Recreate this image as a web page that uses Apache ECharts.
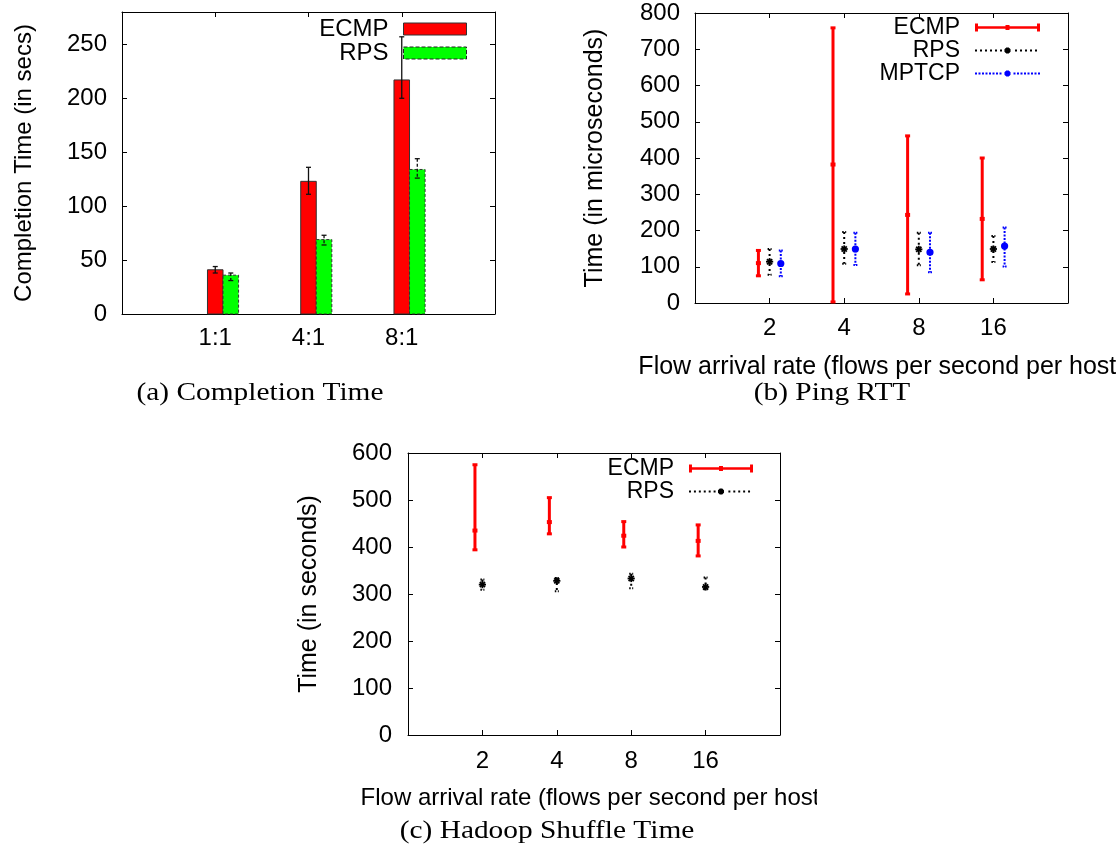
<!DOCTYPE html>
<html>
<head>
<meta charset="utf-8">
<script src="https://cdn.jsdelivr.net/npm/echarts@6/dist/echarts.min.js"></script>
<style>
html, body { margin: 0; padding: 0; background: #fff; }
#chart { width: 1116px; height: 850px; }
</style>
</head>
<body>
<div id="chart"></div>
<script>
// (a) completion time, clustered bars with error bars
var ratioLabels = ['1:1', '4:1', '8:1'];
var ecmpTime = [41, 123, 217];
var ecmpTimeLow = [38, 111, 200];
var ecmpTimeHigh = [44, 136, 257];
var rpsTime = [36, 69, 134];
var rpsTimeLow = [31, 64, 126];
var rpsTimeHigh = [38, 73, 144];

// (b) ping rtt (microseconds)
var rateLabels = ['2', '4', '8', '16'];
var ecmpRtt = [110, 382, 243, 232];
var ecmpRttLow = [75, 3, 25, 64];
var ecmpRttHigh = [145, 759, 461, 400];
var rpsRtt = [114, 149, 148, 149];
var rpsRttLow = [78, 108, 104, 113];
var rpsRttHigh = [149, 196, 194, 185];
var mptcpRtt = [109, 149, 140, 157];
var mptcpRttLow = [74, 105, 85, 101];
var mptcpRttHigh = [145, 194, 194, 208];

// (c) hadoop shuffle time (seconds)
var ecmpShuffle = [435, 453, 424, 413];
var ecmpShuffleLow = [394, 428, 400, 381];
var ecmpShuffleHigh = [575, 505, 454, 447];
var rpsShuffle = [320, 328, 333, 315];
var rpsShuffleLow = [309, 306, 312, 310];
var rpsShuffleHigh = [331, 334, 343, 335];

var FONT = '"Liberation Sans", Arial, Helvetica, sans-serif';
var RED = '#ff0000', GREEN = '#00ff00', BLUE = '#0000ff';
var BAR_W = 1 / 6;

function rows(vals, lows, highs) {
    return vals.map(function (v, i) { return [i + 1, v, lows[i], highs[i]]; });
}

function xAxes(grid, max, labels, margin, name, nameGap, nameSize) {
    var base = {
        type: 'value', gridIndex: grid, min: 0, max: max, interval: 1,
        axisLine: {show: true, onZero: false, lineStyle: {color: '#000', width: 1}},
        axisTick: {show: true, inside: true, length: 5, lineStyle: {color: '#000'}},
        splitLine: {show: false}
    };
    var bottom = Object.assign({}, base, {
        position: 'bottom',
        axisLabel: {
            show: true, margin: margin, color: '#000', fontSize: 24, fontFamily: FONT,
            showMinLabel: true, showMaxLabel: true,
            formatter: function (v) { return labels[v - 1] || ''; }
        }
    });
    if (name) {
        bottom.name = name;
        bottom.nameLocation = 'middle';
        bottom.nameGap = nameGap;
        bottom.nameMoveOverlap = false;
        bottom.nameTextStyle = {color: '#000', fontSize: nameSize, fontFamily: FONT};
    }
    var top = Object.assign({}, base, {position: 'top', axisLabel: {show: false}});
    return [bottom, top];
}

function yAxes(grid, max, step, margin, name, nameGap, nameSize) {
    var base = {
        type: 'value', gridIndex: grid, min: 0, max: max, interval: step,
        axisLine: {show: true, onZero: false, lineStyle: {color: '#000', width: 1}},
        axisTick: {show: true, inside: true, length: 5, lineStyle: {color: '#000'}},
        splitLine: {show: false}
    };
    var left = Object.assign({}, base, {
        position: 'left',
        axisLabel: {
            show: true, margin: margin, color: '#000', fontSize: 24, fontFamily: FONT,
            formatter: function (v) { return v % step === 0 ? String(v) : ''; }
        },
        name: name, nameLocation: 'middle', nameGap: nameGap, nameMoveOverlap: false,
        nameTextStyle: {color: '#000', fontSize: nameSize, fontFamily: FONT}
    });
    var right = Object.assign({}, base, {position: 'right', axisLabel: {show: false}});
    return [left, right];
}

// bar + error bar for panel (a)
function barRender(offset, fill, dashed) {
    return function (params, api) {
        var x = api.value(0) + offset;
        var base = api.coord([x - BAR_W / 2, 0]);
        var tip = api.coord([x + BAR_W / 2, api.value(1)]);
        var lo = api.coord([x, api.value(2)]);
        var hi = api.coord([x, api.value(3)]);
        var dash = dashed ? [3, 2] : null;
        return {
            type: 'group',
            children: [
                {type: 'rect', shape: {x: base[0], y: tip[1], width: tip[0] - base[0], height: base[1] - tip[1]},
                 style: {fill: fill, stroke: '#333', lineWidth: 1, lineDash: dash}},
                {type: 'line', shape: {x1: hi[0], y1: hi[1], x2: lo[0], y2: lo[1]},
                 style: {stroke: '#111', lineWidth: 1.3, lineDash: dash}},
                {type: 'line', shape: {x1: hi[0] - 2.5, y1: hi[1], x2: hi[0] + 2.5, y2: hi[1]},
                 style: {stroke: '#111', lineWidth: 1.3}},
                {type: 'line', shape: {x1: lo[0] - 2.5, y1: lo[1], x2: lo[0] + 2.5, y2: lo[1]},
                 style: {stroke: '#111', lineWidth: 1.3}}
            ]
        };
    };
}

var LOOKS = {
    ecmp: {color: RED, width: 3, dash: null, cap: 2.5, capWidth: 3, capDash: null},
    rps: {color: '#000', width: 2, dash: [2, 3], cap: 2, capWidth: 2, capDash: [1.5, 1.5]},
    mptcp: {color: BLUE, width: 2, dash: [2, 1.5], cap: 2, capWidth: 2, capDash: [1.5, 1]}
};

function marker(kind, c) {
    if (kind === 'ecmp') {
        return {type: 'rect', shape: {x: c[0] - 2.5, y: c[1] - 2, width: 5, height: 4}, style: {fill: RED}};
    }
    if (kind === 'mptcp') {
        return {type: 'circle', shape: {cx: c[0], cy: c[1], r: 3.6}, style: {fill: BLUE}};
    }
    var r = 3.6, d = r * 0.72;
    return {
        type: 'group',
        children: [
            {type: 'line', shape: {x1: c[0], y1: c[1] - r, x2: c[0], y2: c[1] + r}, style: {stroke: '#000', lineWidth: 1.8}},
            {type: 'line', shape: {x1: c[0] - r, y1: c[1], x2: c[0] + r, y2: c[1]}, style: {stroke: '#000', lineWidth: 1.8}},
            {type: 'line', shape: {x1: c[0] - d, y1: c[1] - d, x2: c[0] + d, y2: c[1] + d}, style: {stroke: '#000', lineWidth: 1.8}},
            {type: 'line', shape: {x1: c[0] - d, y1: c[1] + d, x2: c[0] + d, y2: c[1] - d}, style: {stroke: '#000', lineWidth: 1.8}}
        ]
    };
}

// vertical error bar with a centre point for panels (b) and (c)
function errRender(offset, kind) {
    var look = LOOKS[kind];
    return function (params, api) {
        var x = api.value(0) + offset;
        var c = api.coord([x, api.value(1)]);
        var lo = api.coord([x, api.value(2)]);
        var hi = api.coord([x, api.value(3)]);
        return {
            type: 'group',
            children: [
                {type: 'line', shape: {x1: hi[0], y1: hi[1], x2: lo[0], y2: lo[1]},
                 style: {stroke: look.color, lineWidth: look.width, lineDash: look.dash}},
                {type: 'line', shape: {x1: hi[0] - look.cap, y1: hi[1], x2: hi[0] + look.cap, y2: hi[1]},
                 style: {stroke: look.color, lineWidth: look.capWidth, lineDash: look.capDash}},
                {type: 'line', shape: {x1: lo[0] - look.cap, y1: lo[1], x2: lo[0] + look.cap, y2: lo[1]},
                 style: {stroke: look.color, lineWidth: look.capWidth, lineDash: look.capDash}},
                marker(kind, c)
            ]
        };
    };
}

function custom(name, xi, data, render) {
    return {
        type: 'custom', name: name, xAxisIndex: xi, yAxisIndex: xi,
        data: data, renderItem: render, silent: true, animation: false
    };
}

// legend samples in the gnuplot manner: line + points
var ECMP_ICON = 'path://M0,0H3V8H0Z M0,2.8H65V5.2H0Z M30.5,1.5H34.5V6.5H30.5Z M62,0H65V8H62Z';

function dotIcon(step, dash, markR) {
    var w = 65, h = 8, mid = w / 2, p = 'M0,0M' + w + ',' + h;
    for (var x = 0; x + dash <= w; x += step) {
        if (Math.abs(x + dash / 2 - mid) < markR + 1.5) continue;
        p += 'M' + x + ',3H' + (x + dash) + 'V5H' + x + 'Z';
    }
    var pts = [];
    for (var k = 0; k < 8; k++) {
        var a = Math.PI / 8 + k * Math.PI / 4;
        pts.push((mid + markR * Math.cos(a)).toFixed(2) + ',' + (h / 2 + markR * Math.sin(a)).toFixed(2));
    }
    p += 'M' + pts.join('L') + 'Z';
    return 'path://' + p;
}

function legendBox(items, iw, ih, right, top, size, lh) {
    return {
        orient: 'vertical', align: 'right', right: right, top: top,
        padding: 0, itemGap: 0, itemWidth: iw, itemHeight: ih,
        selectedMode: false,
        formatter: function (n) { return n.slice(2); },
        textStyle: {color: '#000', fontSize: size, fontFamily: FONT, lineHeight: lh, padding: [0, 10, 0, 0]},
        data: items
    };
}

var chart = echarts.init(document.getElementById('chart'), null, {renderer: 'canvas'});

var option = {
    backgroundColor: '#fff',
    animation: false,
    grid: [
        {left: 122, top: 12, width: 373, height: 302, containLabel: false, outerBoundsMode: 'none'},
        {left: 695, top: 13, width: 373, height: 290, containLabel: false, outerBoundsMode: 'none'},
        {left: 408, top: 453, width: 372, height: 282, containLabel: false, outerBoundsMode: 'none'}
    ],
    xAxis: [].concat(
        xAxes(0, 4, ratioLabels, 12),
        xAxes(1, 5, rateLabels, 13, 'Flow arrival rate (flows per second per host)', 52, 25),
        xAxes(2, 5, rateLabels, 14, 'Flow arrival rate (flows per second per host)', 51, 24)
    ),
    yAxis: [].concat(
        yAxes(0, 280, 50, 15, 'Completion Time (in secs)', 86, 24),
        yAxes(1, 800, 100, 15, 'Time (in microseconds)', 87, 25),
        yAxes(2, 600, 100, 16, 'Time (in seconds)', 86, 25)
    ),
    legend: [
        legendBox([
            {name: 'a-ECMP', icon: 'rect', itemStyle: {color: RED, borderColor: '#333', borderWidth: 1}},
            {name: 'a-RPS', icon: 'rect', itemStyle: {color: GREEN, borderColor: '#222', borderWidth: 1, borderType: 'dashed'}}
        ], 63, 12, 649, 17, 24, 24),
        legendBox([
            {name: 'b-ECMP', icon: ECMP_ICON, itemStyle: {color: RED, borderWidth: 0}},
            {name: 'b-RPS', icon: dotIcon(5, 2, 3.3), itemStyle: {color: '#000', borderWidth: 0}},
            {name: 'b-MPTCP', icon: dotIcon(3.5, 2, 3.3), itemStyle: {color: BLUE, borderWidth: 0}}
        ], 65, 8, 76, 16, 23, 19),
        legendBox([
            {name: 'c-ECMP', icon: ECMP_ICON, itemStyle: {color: RED, borderWidth: 0}},
            {name: 'c-RPS', icon: dotIcon(5, 2, 3.3), itemStyle: {color: '#000', borderWidth: 0}}
        ], 64, 8, 363, 457, 23, 19)
    ],
    series: [
        custom('a-ECMP', 0, rows(ecmpTime, ecmpTimeLow, ecmpTimeHigh), barRender(0, RED, false)),
        custom('a-RPS', 0, rows(rpsTime, rpsTimeLow, rpsTimeHigh), barRender(BAR_W, GREEN, true)),
        custom('b-ECMP', 2, rows(ecmpRtt, ecmpRttLow, ecmpRttHigh), errRender(-0.15, 'ecmp')),
        custom('b-RPS', 2, rows(rpsRtt, rpsRttLow, rpsRttHigh), errRender(0, 'rps')),
        custom('b-MPTCP', 2, rows(mptcpRtt, mptcpRttLow, mptcpRttHigh), errRender(0.15, 'mptcp')),
        custom('c-ECMP', 4, rows(ecmpShuffle, ecmpShuffleLow, ecmpShuffleHigh), errRender(-0.1, 'ecmp')),
        custom('c-RPS', 4, rows(rpsShuffle, rpsShuffleLow, rpsShuffleHigh), errRender(0, 'rps'))
    ],
    graphic: [
        // the (c) panel was cropped in the source figure
        {type: 'rect', z: 100, shape: {x: 817, y: 778, width: 300, height: 42}, style: {fill: '#fff'}},
        {type: 'text', x: 260, y: 393, scaleX: 1.13, style: {text: '(a) Completion Time', font: '26px "Liberation Serif", serif', fill: '#000', align: 'center', verticalAlign: 'middle'}},
        {type: 'text', x: 832, y: 393, scaleX: 1.13, style: {text: '(b) Ping RTT', font: '26px "Liberation Serif", serif', fill: '#000', align: 'center', verticalAlign: 'middle'}},
        {type: 'text', x: 547, y: 831, scaleX: 1.13, style: {text: '(c) Hadoop Shuffle Time', font: '26px "Liberation Serif", serif', fill: '#000', align: 'center', verticalAlign: 'middle'}}
    ]
};

chart.setOption(option);
</script>
</body>
</html>
